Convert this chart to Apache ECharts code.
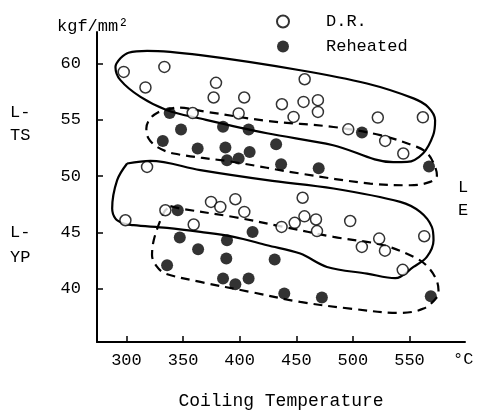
<!DOCTYPE html>
<html>
<head>
<meta charset="utf-8">
<script src="https://cdn.jsdelivr.net/npm/echarts@6/dist/echarts.min.js"></script>
<style>
  html, body { margin: 0; padding: 0; background: #fff; }
  #chart { width: 477px; height: 414px; }
</style>
</head>
<body>
<div id="chart"></div>
<script>
// tick labels
var xTicks = [300, 350, 400, 450, 500, 550];
var yTicks = [40, 45, 50, 55, 60];

// D.R. (open circles) [temperature, kgf/mm2]
var drPoints = [
  [297.6, 59.25], [316.8, 57.87], [333.5, 59.7], [379.1, 58.28], [377, 56.98],
  [404, 56.98], [358.5, 55.6], [399.1, 55.56], [437.3, 56.38], [456.4, 56.59],
  [469.1, 56.74], [469.1, 55.7], [447.6, 55.25], [457.4, 58.6], [495.9, 54.15],
  [522, 55.2], [561.8, 55.22], [528.5, 53.12], [544.5, 52.0],
  [318.2, 50.81], [299.1, 46.07], [334.4, 46.96], [359.4, 45.69], [374.7, 47.7],
  [382.9, 47.25], [396.2, 47.94], [404.1, 46.81], [455.6, 48.07], [437, 45.48],
  [448.6, 45.84], [457.2, 46.42], [467.4, 46.14], [468.3, 45.11], [497.6, 46.0],
  [523.2, 44.44], [507.9, 43.7], [528.3, 43.37], [563, 44.65], [544, 41.66]
];

// Reheated (filled circles)
var rhPoints = [
  [338.2, 55.61], [348.2, 54.13], [385.3, 54.37], [407.9, 54.13], [508, 53.87],
  [332.1, 53.12], [362.9, 52.44], [387.4, 52.53], [388.8, 51.4], [399.1, 51.55],
  [408.8, 52.14], [432.2, 52.83], [436.6, 51.05], [469.8, 50.7], [567.2, 50.84],
  [345.3, 46.96], [347.1, 44.53], [363.3, 43.49], [388.8, 44.3], [388.2, 42.67],
  [411.4, 45.03], [430.9, 42.58], [335.9, 42.07], [385.3, 40.89], [396.2, 40.38],
  [407.9, 40.89], [439.4, 39.56], [472.6, 39.2], [568.8, 39.32]
];

// envelope outlines
var drTsEnvelope = [
  [294.7, 60.47], [301.8, 60.96], [318.3, 61.12], [365.3, 60.74], [453.5, 59.4],
  [512.4, 58.22], [553.5, 56.9], [566.5, 56.12], [572.6, 54.96], [570.9, 53.63],
  [562.1, 52.03], [547.9, 51.25], [535.6, 51.23], [482.6, 52.74], [424.1, 53.8],
  [365.3, 55.11], [335.9, 55.85], [312.4, 57.03], [294.7, 58.52], [290.3, 59.7],
  [294.7, 60.47]
];
var rhTsEnvelope = [
  [334.4, 55.84], [344.7, 56.09], [371.2, 55.7], [424.2, 54.9], [482.9, 54.36],
  [524.1, 53.63], [556.5, 52.59], [566.5, 51.94], [572.6, 50.81], [574.2, 50.07],
  [568.2, 49.48], [550.6, 49.18], [515.3, 49.33], [453.5, 50.22], [394.4, 51.25],
  [341.7, 52.0], [327.1, 52.59], [319.4, 53.36], [317.6, 54.25], [321.2, 55.14],
  [328.2, 55.67], [334.4, 55.84]
];
var drYpEnvelope = [
  [300.6, 51.11], [321.2, 51.34], [365.3, 50.52], [424.2, 49.63], [482.9, 48.89],
  [541.8, 47.7], [559.4, 46.81], [569.7, 45.48], [571.2, 44.29], [565.3, 42.81],
  [553.5, 41.92], [537.4, 40.92], [512.4, 41.33], [477.1, 41.92], [453.5, 43.11],
  [424.2, 43.85], [394.7, 44.59], [365.3, 45.03], [335.9, 45.39], [306.4, 45.63],
  [297.6, 45.78], [290.3, 46.22], [287.4, 47.11], [291.8, 49.63], [300.6, 51.11]
];
var rhYpEnvelope = [
  [338.8, 47.32], [347.6, 47.11], [394.7, 46.36], [438.8, 45.48], [482.9, 44.59],
  [527.0, 43.85], [556.5, 42.67], [566.5, 41.89], [573.5, 40.83], [575.6, 39.85],
  [574.2, 39.23], [562.4, 38.22], [541.8, 37.83], [497.6, 38.22], [453.5, 38.81],
  [409.4, 39.7], [365.3, 40.59], [334.4, 41.33], [327.1, 41.92], [322.6, 42.96],
  [324.1, 44.29], [330.0, 46.07], [334.4, 46.96], [338.8, 47.32]
];

var FONT = 'Liberation Mono';
var INK = '#000';

function envelope(data, dashed) {
  return {
    type: 'line',
    data: data,
    smooth: 0.35,
    symbol: 'none',
    silent: true,
    z: 2,
    lineStyle: { color: INK, width: 2.2, type: dashed ? [9, 6] : 'solid' }
  };
}

var myChart = echarts.init(document.getElementById('chart'));
myChart.setOption({
  animation: false,
  backgroundColor: '#fff',
  grid: { left: 97, right: 12, top: 32, bottom: 72, outerBoundsMode: 'none' },
  legend: {
    orient: 'vertical',
    left: 271,
    top: 8,
    itemWidth: 12,
    itemHeight: 12,
    itemGap: 8,
    data: ['D.R.', 'Reheated'],
    textStyle: { fontFamily: FONT, fontSize: 17, color: INK, padding: [0, 0, 0, 32] }
  },
  xAxis: {
    type: 'value',
    min: 274,
    max: 599,
    name: 'Coiling Temperature',
    nameLocation: 'middle',
    nameGap: 50,
    nameTextStyle: { fontFamily: FONT, fontSize: 18, color: INK },
    splitLine: { show: false },
    axisLine: { lineStyle: { color: INK, width: 2 } },
    axisTick: { inside: true, length: 6, customValues: xTicks, lineStyle: { color: INK, width: 1.5 } },
    axisLabel: { customValues: xTicks, margin: 10, fontFamily: FONT, fontSize: 17, color: INK }
  },
  yAxis: {
    type: 'value',
    min: 35.25,
    max: 62.8,
    splitLine: { show: false },
    axisLine: { show: true, lineStyle: { color: INK, width: 2 } },
    axisTick: { show: true, inside: true, length: 6, customValues: yTicks, lineStyle: { color: INK, width: 1.5 } },
    axisLabel: { customValues: yTicks, margin: 16, fontFamily: FONT, fontSize: 17, color: INK }
  },
  graphic: [
    { type: 'text', left: 57, top: 18, style: { text: 'kgf/mm²', font: '17px "Liberation Mono"', fill: INK } },
    { type: 'text', left: 10, top: 101, style: { text: 'L-\nTS', font: '17px "Liberation Mono"', lineHeight: 23, fill: INK } },
    { type: 'text', left: 10, top: 220, style: { text: 'L-\nYP', font: '17px "Liberation Mono"', lineHeight: 25, fill: INK } },
    { type: 'text', left: 458, top: 176, style: { text: 'L\nE', font: '17px "Liberation Mono"', lineHeight: 23, fill: INK } },
    { type: 'text', left: 453, top: 351, style: { text: '°C', font: '17px "Liberation Mono"', fill: INK } }
  ],
  series: [
    envelope(drTsEnvelope, false),
    envelope(rhTsEnvelope, true),
    envelope(drYpEnvelope, false),
    envelope(rhYpEnvelope, true),
    {
      name: 'D.R.',
      type: 'scatter',
      data: drPoints,
      symbol: 'circle',
      symbolSize: 11,
      z: 5,
      itemStyle: { color: '#fff', borderColor: INK, borderWidth: 1.5 }
    },
    {
      name: 'Reheated',
      type: 'scatter',
      data: rhPoints,
      symbol: 'circle',
      symbolSize: 12,
      z: 6,
      itemStyle: { color: INK }
    }
  ]
});
</script>
</body>
</html>
